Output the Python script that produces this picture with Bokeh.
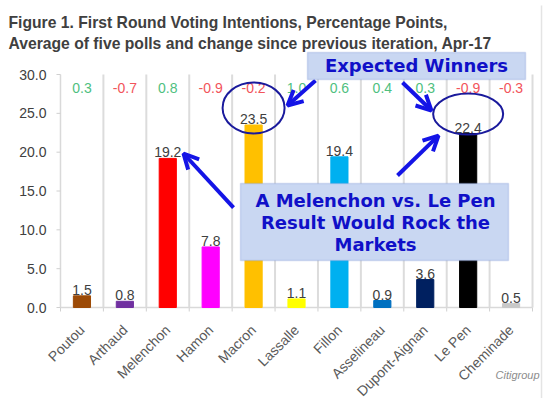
import math
from bokeh.plotting import figure
from bokeh.models import (ColumnDataSource, Range1d, Label, BoxAnnotation, Arrow, OpenHead)
from bokeh.core.properties import value
from bokeh.embed import file_html
from bokeh.resources import INLINE

candidates = ["Poutou", "Arthaud", "Melenchon", "Hamon", "Macron", "Lassalle",
              "Fillon", "Asselineau", "Dupont-Aignan", "Le Pen", "Cheminade"]
intentions = [1.5, 0.8, 19.2, 7.8, 23.5, 1.1, 19.4, 0.9, 3.6, 22.4, 0.5]
changes = [0.3, -0.7, 0.8, -0.9, -0.2, 1.0, 0.6, 0.4, 0.3, -0.9, -0.3]
bar_colors = ["#9c4a06", "#7030a0", "#ff0000", "#ff00ff", "#ffc000", "#ffff00",
              "#00b0f0", "#0070c0", "#002060", "#000000", "#c8c8c8"]
y_ticks = [0, 5, 10, 15, 20, 25, 30]
y_tick_labels = ["0.0", "5.0", "10.0", "15.0", "20.0", "25.0", "30.0"]

n = len(candidates)
xs = list(range(n))
src = ColumnDataSource(dict(
    x=xs, v=intentions, color=bar_colors, name=candidates,
    vlab=[f"{v:.1f}" for v in intentions],
    clab=[f"{c:.1f}" for c in changes],
    ccol=["#4fbf7f" if c >= 0 else "#f2545b" for c in changes],
    cy=[28.2] * n, zero=[0] * n,
))

FONT = "Liberation Sans"

p = figure(width=550, height=398, output_backend="svg", toolbar_location=None,
           x_axis_type=None, y_axis_type=None,
           x_range=Range1d(-1.898, 10.919), y_range=Range1d(-11.716, 39.53),
           min_border=0)
p.outline_line_color = None
p.xgrid.grid_line_color = None
p.ygrid.grid_line_color = None
p.background_fill_color = "white"
p.border_fill_color = "white"

# vertical separators between categories
bounds = [i + 0.5 for i in xs]
p.segment(x0=bounds, y0=[0] * n, x1=bounds, y1=[30] * n,
          line_color="#dcdcdc", line_width=2)
# x tick marks below axis at boundaries
p.ray(x=[-0.5] + bounds, y=[0] * (n + 1), length=4, length_units="screen",
      angle=-math.pi / 2, line_color="#d0d0d0", line_width=1)
# axes lines
p.segment(x0=[-0.5], y0=[0], x1=[-0.5], y1=[30], line_color="#d9d9d9", line_width=1.5)
p.segment(x0=[-0.5], y0=[0], x1=[n - 0.5], y1=[0], line_color="#d9d9d9", line_width=1.5)
# y ticks and labels
p.ray(x=[-0.5] * len(y_ticks), y=y_ticks, length=4, length_units="screen",
      angle=math.pi, line_color="#d0d0d0", line_width=1)
p.text(x=[-0.5] * len(y_ticks), y=y_ticks, text=y_tick_labels, x_offset=-14,
       text_align="right", text_baseline="middle", text_font=value(FONT),
       text_font_size="14px", text_color="#404040")

# right border line of the exhibit
p.segment(x0=[10.71], y0=[-11.7], x1=[10.71], y1=[38.9], line_color="#e4e4e4", line_width=1.5)

p.vbar(x="x", top="v", width=0.4, color="color", source=src)

p.text(x="x", y="v", text="vlab", source=src, text_align="center",
       text_baseline="alphabetic", y_offset=-6, text_font=value(FONT),
       text_font_size="14px", text_color="#404040")
p.text(x="x", y="cy", text="clab", source=src, text_align="center",
       text_baseline="middle", text_font=value(FONT),
       text_font_size="14px", text_color="ccol")

# category labels, rotated
p.text(x="x", y="zero", text="name", source=src, angle=math.pi / 4,
       text_align="right", text_baseline="middle", x_offset=0, y_offset=20,
       text_font=value(FONT), text_font_size="14px", text_color="#595959")

# title
for yy, t in [(36.69, "Figure 1. First Round Voting Intentions, Percentage Points,"),
              (33.99, "Average of five polls and change since previous iteration, Apr-17")]:
    p.add_layout(Label(x=-1.712, y=yy, text=t, text_font=FONT, text_font_style="bold",
                       text_font_size="15.7px", text_color="#404040",
                       text_baseline="alphabetic"))

# ellipses
mac = candidates.index("Macron")
lep = candidates.index("Le Pen")
p.ellipse(x=[mac], y=[25.7], width=62, height=51, width_units="screen", height_units="screen",
          fill_alpha=0, line_color="#1a1a9c", line_width=2)
p.ellipse(x=[lep], y=[24.9], width=70, height=41, width_units="screen", height_units="screen",
          fill_alpha=0, line_color="#1a1a9c", line_width=2)

# arrows
arrow_col = "#1414e6"
for xs0, ys0, xe, ye in [(5.443, 29.23, 4.790, 26.01), (7.470, 28.97, 8.146, 25.36),
                         (3.532, 12.87, 2.366, 19.83), (7.354, 17.0, 8.309, 22.14)]:
    p.add_layout(Arrow(x_start=xs0, y_start=ys0, x_end=xe, y_end=ye,
                       line_color=arrow_col, line_width=4,
                       end=OpenHead(size=15, line_color=arrow_col, line_width=4)))

# boxes
box_fill = "#c9d7f2"
box_line = "#8098d8"
p.add_layout(BoxAnnotation(left=5.256, right=10.337, bottom=29.35, top=32.83,
                           fill_color=box_fill, fill_alpha=1, line_color=box_line, line_width=1.5))
p.add_layout(BoxAnnotation(left=3.695, right=9.940, bottom=6.05, top=15.97,
                           fill_color=box_fill, fill_alpha=1, line_color=box_line, line_width=1.5))

txt_col = "#1010c8"
p.add_layout(Label(x=7.796, y=31.1, text="Expected Winners", text_align="center",
                   text_baseline="middle", text_font="DejaVu Sans", text_font_style="bold",
                   text_font_size="18px", text_color=txt_col))
for yy, t in [(13.78, "A Melenchon vs. Le Pen"), (10.94, "Result Would Rock the"), (8.11, "Markets")]:
    p.add_layout(Label(x=6.841, y=yy, text=t, text_align="center", text_baseline="middle",
                       text_font="DejaVu Sans", text_font_style="bold",
                       text_font_size="18px", text_color=txt_col))

p.add_layout(Label(x=10.15, y=-8.75, text="Citigroup", text_align="center", text_baseline="middle",
                   text_font=FONT, text_font_style="italic",
                   text_font_size="11px", text_color="#8c8c8c"))

open("out.html", "w").write(file_html(p, INLINE))
